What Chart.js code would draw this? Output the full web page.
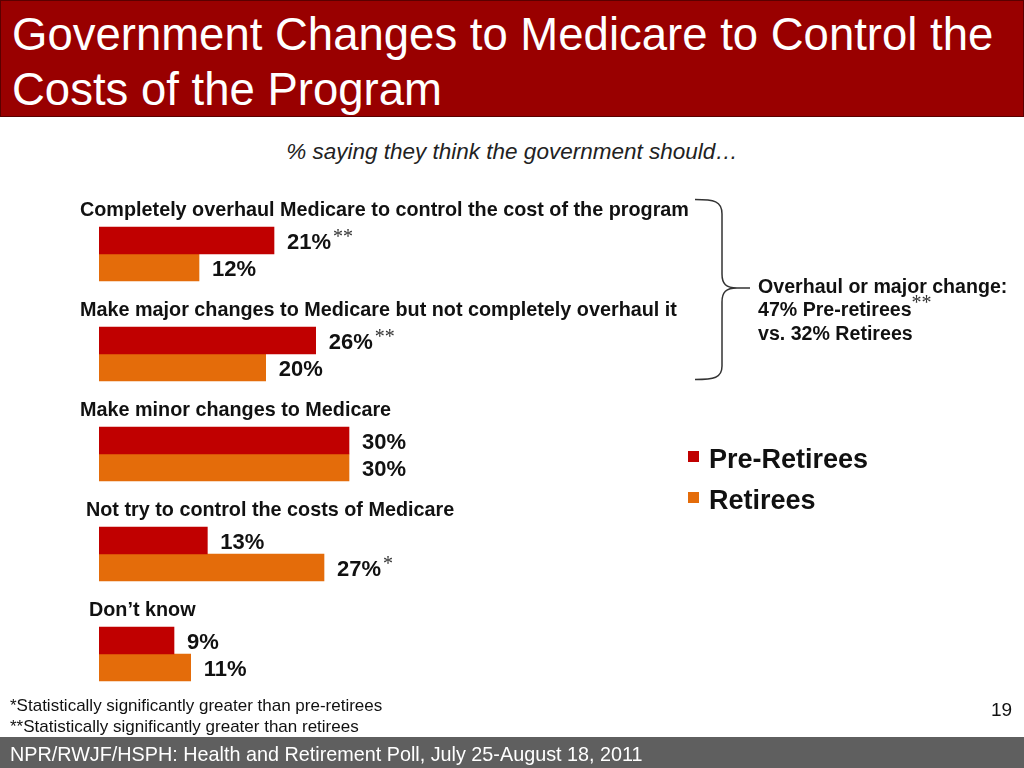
<!DOCTYPE html>
<html>
<head>
<meta charset="utf-8">
<script src="https://cdn.jsdelivr.net/npm/chart.js@4"></script>
<style>
  html, body { margin:0; padding:0; width:1024px; height:768px; overflow:hidden; background:#fff; font-family:"Liberation Sans", Arial, sans-serif; }
  #chart { position:absolute; left:0; top:0; }
  .abs { position:absolute; white-space:nowrap; }
  #header { position:absolute; left:0; top:0; width:1022px; height:115px; background:#990000; border:1px solid #5a0000; }
  #title { left:12px; top:7px; color:#fff; font-size:45.5px; line-height:55px; }
  #subtitle { left:0; width:1024px; text-align:center; top:139px; font-size:22.5px; font-style:italic; color:#222; }
  .brk { left:758px; font-size:19.6px; font-weight:bold; color:#111; }
  .sup { font-family:"Liberation Serif", "Times New Roman", serif; font-weight:normal; font-size:20px; position:relative; top:-7px; color:#333; }
  .leg { left:709px; font-size:27px; font-weight:bold; color:#111; }
  .sw { position:absolute; left:688px; width:11px; height:11px; }
  .fn { left:10px; font-size:17px; color:#111; }
  #footer { position:absolute; left:0; top:737px; width:1024px; height:31px; background:#5f5f5f; }
  #foot { left:10px; top:743px; color:#fff; font-size:19.8px; }
  #page { left:991px; top:699px; font-size:19px; color:#111; }
</style>
</head>
<body>
<div id="header"></div>
<div class="abs" id="title">Government Changes to Medicare to Control the<br>Costs of the Program</div>
<div class="abs" id="subtitle">% saying they think the government should…</div>

<canvas id="chart" width="1024" height="768"></canvas>

<svg class="abs" style="left:0;top:0" width="1024" height="768">
  <path d="M695,199.5 C714,199.5 722,201 722,214 L722,274 C722,284 726,288 737,288 L750,288 M737,288 C726,288 722,292 722,302 L722,366 C722,378 714,379.5 695,379.5" fill="none" stroke="#333" stroke-width="1.5"/>
</svg>
<div class="abs brk" style="top:275px">Overhaul or major change:</div>
<div class="abs brk" style="top:298px">47% Pre-retirees<span class="sup">**</span></div>
<div class="abs brk" style="top:322px">vs. 32% Retirees</div>

<div class="sw" style="top:451px;background:#C00000"></div>
<div class="abs leg" style="top:444px">Pre-Retirees</div>
<div class="sw" style="top:492px;background:#E46C0A"></div>
<div class="abs leg" style="top:485px">Retirees</div>

<div class="abs fn" style="top:696px">*Statistically significantly greater than pre-retirees</div>
<div class="abs fn" style="top:717px">**Statistically significantly greater than retirees</div>
<div class="abs" id="page">19</div>
<div id="footer"></div>
<div class="abs" id="foot">NPR/RWJF/HSPH: Health and Retirement Poll, July 25-August 18, 2011</div>

<script>
const categories = [
  "Completely overhaul Medicare to control the cost of the program",
  "Make major changes to Medicare but not completely overhaul it",
  "Make minor changes to Medicare",
  "Not try to control the costs of Medicare",
  "Don\u2019t know"
];
const preRetirees = [21, 26, 30, 13, 9];
const retirees = [12, 20, 30, 27, 11];
const preMarks = ["**", "**", "", "", ""];
const retMarks = ["", "", "", "*", ""];
const seriesNames = ["Pre-Retirees", "Retirees"];

const labelIndent = [80, 80, 80, 86, 89];

const labelsPlugin = {
  id: 'labelsPlugin',
  afterDatasetsDraw(chart) {
    const ctx = chart.ctx;
    const ys = chart.scales.y;
    ctx.save();
    ctx.textBaseline = 'middle';
    ctx.fillStyle = '#111';
    ctx.font = 'bold 19.8px "Liberation Sans", Arial, sans-serif';
    categories.forEach((c, i) => {
      const y = ys.getPixelForValue(i);
      ctx.fillText(c, labelIndent[i], y - 43);
    });
    const marks = [preMarks, retMarks];
    chart.data.datasets.forEach((ds, di) => {
      const meta = chart.getDatasetMeta(di);
      meta.data.forEach((bar, i) => {
        const txt = ds.data[i] + '%';
        ctx.font = 'bold 22px "Liberation Sans", Arial, sans-serif';
        ctx.fillStyle = '#111';
        const x = bar.x + 13;
        const y = bar.y + 2;
        ctx.fillText(txt, x, y);
        const m = marks[di][i];
        if (m) {
          const w = ctx.measureText(txt).width;
          ctx.font = '20px "Liberation Serif", "Times New Roman", serif';
          ctx.fillStyle = '#333';
          ctx.fillText(m, x + w + 2, y - 5);
        }
      });
    });
    ctx.restore();
  }
};

new Chart(document.getElementById('chart'), {
  type: 'bar',
  data: {
    labels: categories,
    datasets: [
      { label: seriesNames[0], data: preRetirees, backgroundColor: '#C00000', barThickness: 27 },
      { label: seriesNames[1], data: retirees, backgroundColor: '#E46C0A', barThickness: 27 }
    ]
  },
  options: {
    indexAxis: 'y',
    responsive: false,
    animation: false,
    layout: { padding: { left: 99, right: 508.33, top: 204, bottom: 64 } },
    scales: {
      x: { display: false, min: 0, max: 50 },
      y: { display: false }
    },
    plugins: { legend: { display: false }, tooltip: { enabled: false } }
  },
  plugins: [labelsPlugin]
});
</script>
</body>
</html>
